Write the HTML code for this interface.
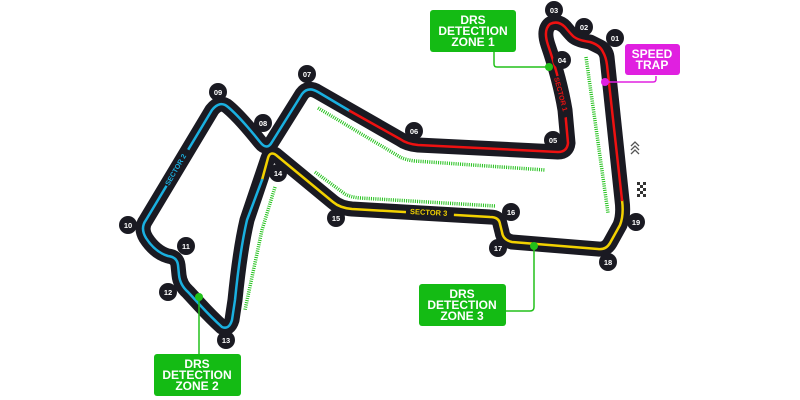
<!DOCTYPE html>
<html><head><meta charset="utf-8"><style>
html,body{margin:0;padding:0;background:#fff;width:800px;height:400px;overflow:hidden}
svg{display:block}
text{font-family:"Liberation Sans",sans-serif;font-weight:bold}
</style></head><body>
<svg width="800" height="400" viewBox="0 0 800 400" xmlns="http://www.w3.org/2000/svg">
<g fill="none" stroke="#22c11a" stroke-width="3.5" stroke-dasharray="1 1.2">
<path d="M318 108 L400 157 Q406 160 415 161 L545 170"/>
<path d="M315 172 L345 194 Q350 197 360 198 L495 206"/>
<path d="M586 57 L608 213"/>
<path d="M275 187 L262 230 L245 310"/>
</g>
<g stroke-linecap="round" stroke-linejoin="round" fill="none">
<path d="M600 47 Q606 50 607 57 L622 200 Q624 215 620 225 L610 243 Q606 250 598 249 L512 242 Q503 240 502 232 L500 224 Q499 217 490 217 L352 209 Q340 208 333 202 L276 155 Q270 151 268 158 L247 220 Q240 250 235 300 L232 320 Q229 330 222 327 Q212 318 200 305 L188 292 Q180 285 179 275 L178 265 Q177 257 168 256 Q155 252 146 238 Q140 228 146 220 L212 110 Q220 100 228 107 Q240 117 260 142 Q267 151 272 142 L302 94 Q308 86 318 92 L400 139 Q407 144 418 145 L558 152 Q567 152 568 143 L565 110 Q560 80 548 45 Q543 30 550 24 Q558 20 565 27 Q570 33 572 35 Q576 40 590 42 Z" stroke="#1a1a22" stroke-width="15"/>
<path d="M622 200 Q624 215 620 225 L610 243 Q606 250 598 249 L512 242 Q503 240 502 232 L500 224 Q499 217 490 217 L352 209 Q340 208 333 202 L276 155 Q270 151 268 158 L262 180" stroke="#f2d100" stroke-width="2.5"/>
<path d="M262 180 L247 220 Q240 250 235 300 L232 320 Q229 330 222 327 Q212 318 200 305 L188 292 Q180 285 179 275 L178 265 Q177 257 168 256 Q155 252 146 238 Q140 228 146 220 L212 110 Q220 100 228 107 Q240 117 260 142 Q267 151 272 142 L302 94 Q308 86 318 92 L350 111" stroke="#1ab0e0" stroke-width="2.5"/>
<path d="M350 111 L400 139 Q407 144 418 145 L558 152 Q567 152 568 143 L565 110 Q560 80 548 45 Q543 30 550 24 Q558 20 565 27 Q570 33 572 35 Q576 40 590 42 Q600 45 603 52 Q606 57 607 65 L622 200" stroke="#ee1111" stroke-width="2.5"/>
</g>
<g transform="translate(169,186) rotate(-60)"><rect x="-1" y="-7" width="42" height="9" fill="#1a1a22"/><text x="0" y="0" font-size="7" fill="#1ab0e0">SECTOR 2</text></g>
<g transform="rotate(3 430 212)"><rect x="406" y="207" width="48" height="9" fill="#1a1a22"/><text x="410" y="215" font-size="7.5" fill="#f2d100">SECTOR 3</text></g>
<g transform="translate(554,78) rotate(75)"><rect x="-1" y="-7" width="42" height="9" fill="#1a1a22"/><text x="0" y="0" font-size="7" fill="#ee1111">SECTOR 1</text></g>
<g fill="#1a1a22">
<circle cx="615" cy="38" r="9"/><circle cx="584" cy="27" r="9"/><circle cx="554" cy="10" r="9"/><circle cx="562" cy="60" r="9"/>
<circle cx="553" cy="140" r="9"/><circle cx="414" cy="131" r="9"/><circle cx="307" cy="74" r="9"/><circle cx="263" cy="123" r="9"/>
<circle cx="218" cy="92" r="9"/><circle cx="128" cy="225" r="9"/><circle cx="186" cy="246" r="9"/><circle cx="168" cy="292" r="9"/>
<circle cx="226" cy="340" r="9"/><circle cx="278" cy="173" r="9"/><circle cx="336" cy="218" r="9"/><circle cx="511" cy="212" r="9"/>
<circle cx="498" cy="248" r="9"/><circle cx="608" cy="262" r="9"/><circle cx="636" cy="222" r="9"/>
</g>
<g fill="#fff" font-size="7.5" text-anchor="middle">
<text x="615" y="41">01</text><text x="584" y="30">02</text><text x="554" y="13">03</text><text x="562" y="63">04</text>
<text x="553" y="143">05</text><text x="414" y="134">06</text><text x="307" y="77">07</text><text x="263" y="126">08</text>
<text x="218" y="95">09</text><text x="128" y="228">10</text><text x="186" y="249">11</text><text x="168" y="295">12</text>
<text x="226" y="343">13</text><text x="278" y="176">14</text><text x="336" y="221">15</text><text x="511" y="215">16</text>
<text x="498" y="251">17</text><text x="608" y="265">18</text><text x="636" y="225">19</text>
</g>
<g fill="none" stroke="#555" stroke-width="1.3">
<path d="M631 146 L635 142 L639 146 M631 150 L635 146 L639 150 M631 154 L635 150 L639 154"/>
</g>
<g fill="#333">
<rect x="637" y="182" width="3" height="3"/><rect x="643" y="182" width="3" height="3"/><rect x="640" y="185" width="3" height="3"/>
<rect x="637" y="188" width="3" height="3"/><rect x="643" y="188" width="3" height="3"/><rect x="640" y="191" width="3" height="3"/>
<rect x="643" y="194" width="3" height="3"/><rect x="637" y="194" width="3" height="3"/>
</g>
<g fill="none" stroke="#22c11a" stroke-width="1.5">
<path d="M494 52 L494 64 Q494 67 497 67 L549 67"/>
<path d="M199 297 L199 354"/>
<path d="M506 311 L530 311 Q534 311 534 307 L534 246"/>
</g>
<path d="M605 82 L653 82 Q656 82 656 79 L656 76" fill="none" stroke="#e020e0" stroke-width="1.5"/>
<g fill="#22c11a"><circle cx="549" cy="67" r="4"/><circle cx="199" cy="297" r="4"/><circle cx="534" cy="246" r="4"/></g>
<circle cx="605" cy="82" r="4" fill="#e020e0"/>
<rect x="430" y="10" width="86" height="42" rx="3" fill="#14bb14"/>
<rect x="154" y="354" width="87" height="42" rx="3" fill="#14bb14"/>
<rect x="419" y="284" width="87" height="42" rx="3" fill="#14bb14"/>
<rect x="625" y="44" width="55" height="31" rx="3" fill="#e020e0"/>
<g fill="#fff" font-size="12" text-anchor="middle">
<text x="473" y="24">DRS</text><text x="473" y="35">DETECTION</text><text x="473" y="46">ZONE 1</text>
<text x="197" y="368">DRS</text><text x="197" y="379">DETECTION</text><text x="197" y="390">ZONE 2</text>
<text x="462" y="298">DRS</text><text x="462" y="309">DETECTION</text><text x="462" y="320">ZONE 3</text>
<text x="652" y="58">SPEED</text><text x="652" y="69">TRAP</text>
</g>
</svg>
</body></html>
